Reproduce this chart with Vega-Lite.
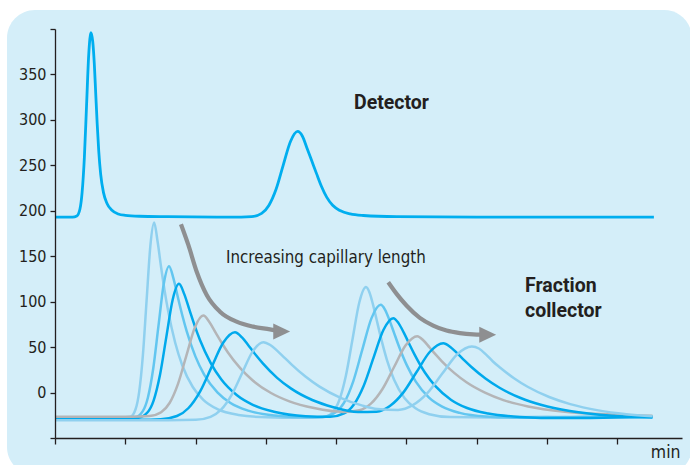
{
  "$schema": "https://vega.github.io/schema/vega-lite/v6.json",
  "autosize": {"type": "none"},
  "padding": {"left": 55, "top": 29, "right": 8, "bottom": 27},
  "width": 627,
  "height": 409,
  "background": "white",
  "config": {"view": {"stroke": null}},
  "datasets": {
    "curves": [
      {"s":"D","x":0,"y":193},{"s":"D","x":0.25,"y":193},{"s":"D","x":0.31,"y":194.2},{"s":"D","x":0.355,"y":201.9},{"s":"D","x":0.386,"y":220.5},{"s":"D","x":0.418,"y":258.9},{"s":"D","x":0.449,"y":316.1},{"s":"D","x":0.48,"y":372.1},{"s":"D","x":0.512,"y":396},{"s":"D","x":0.537,"y":386},{"s":"D","x":0.559,"y":362},{"s":"D","x":0.58,"y":328},{"s":"D","x":0.6,"y":296},{"s":"D","x":0.622,"y":266},{"s":"D","x":0.65,"y":240},{"s":"D","x":0.69,"y":220},{"s":"D","x":0.74,"y":208},{"s":"D","x":0.81,"y":200.5},{"s":"D","x":0.9,"y":196.5},{"s":"D","x":1.0,"y":195},{"s":"D","x":1.2,"y":194},{"s":"D","x":1.6,"y":193.5},{"s":"D","x":2.5,"y":193},{"s":"D","x":2.796,"y":193.6},{"s":"D","x":2.94,"y":197.1},{"s":"D","x":3.042,"y":205.8},{"s":"D","x":3.145,"y":223.6},{"s":"D","x":3.247,"y":250.2},{"s":"D","x":3.35,"y":276.2},{"s":"D","x":3.452,"y":287.3},{"s":"D","x":3.52,"y":282},{"s":"D","x":3.58,"y":270},{"s":"D","x":3.65,"y":255.5},{"s":"D","x":3.722,"y":240.6},{"s":"D","x":3.79,"y":227},{"s":"D","x":3.865,"y":215},{"s":"D","x":3.95,"y":206},{"s":"D","x":4.054,"y":200.3},{"s":"D","x":4.2,"y":196.5},{"s":"D","x":4.386,"y":194.8},{"s":"D","x":4.86,"y":193.5},{"s":"D","x":6,"y":193},{"s":"D","x":8.52,"y":193},

      {"s":"F1","x":0,"y":-28},{"s":"F1","x":0.5,"y":-27.2},{"s":"F1","x":0.8,"y":-28},{"s":"F1","x":1.071,"y":-26.7},{"s":"F1","x":1.145,"y":-18.6},{"s":"F1","x":1.198,"y":1.1},{"s":"F1","x":1.251,"y":41.8},{"s":"F1","x":1.304,"y":102.4},{"s":"F1","x":1.357,"y":161.7},{"s":"F1","x":1.41,"y":187},{"s":"F1","x":1.46,"y":165.9},{"s":"F1","x":1.51,"y":137.6},{"s":"F1","x":1.56,"y":111.8},{"s":"F1","x":1.61,"y":89.6},{"s":"F1","x":1.71,"y":54.8},{"s":"F1","x":1.81,"y":30.1},{"s":"F1","x":1.96,"y":6.1},{"s":"F1","x":2.11,"y":-8},{"s":"F1","x":2.31,"y":-18.2},{"s":"F1","x":2.61,"y":-24.6},{"s":"F1","x":3.01,"y":-27.2},{"s":"F1","x":3.5,"y":-27.8},{"s":"F1","x":3.816,"y":-27.1},{"s":"F1","x":3.949,"y":-21.7},{"s":"F1","x":4.044,"y":-8.5},{"s":"F1","x":4.139,"y":18.8},{"s":"F1","x":4.234,"y":59.3},{"s":"F1","x":4.329,"y":99.1},{"s":"F1","x":4.424,"y":116},{"s":"F1","x":4.474,"y":110.1},{"s":"F1","x":4.524,"y":96.8},{"s":"F1","x":4.574,"y":80.7},{"s":"F1","x":4.624,"y":64.3},{"s":"F1","x":4.724,"y":35.5},{"s":"F1","x":4.824,"y":14},{"s":"F1","x":4.974,"y":-6.3},{"s":"F1","x":5.124,"y":-17.1},{"s":"F1","x":5.324,"y":-23.8},{"s":"F1","x":5.624,"y":-27},{"s":"F1","x":6.2,"y":-27.5},{"s":"F1","x":7,"y":-26.5},{"s":"F1","x":7.5,"y":-27.5},{"s":"F1","x":8,"y":-26.3},{"s":"F1","x":8.5,"y":-26},

      {"s":"F2","x":0,"y":-28.5},{"s":"F2","x":0.9,"y":-28},{"s":"F2","x":1.142,"y":-27},{"s":"F2","x":1.247,"y":-20.7},{"s":"F2","x":1.322,"y":-5.4},{"s":"F2","x":1.397,"y":26.2},{"s":"F2","x":1.472,"y":73.3},{"s":"F2","x":1.547,"y":119.4},{"s":"F2","x":1.622,"y":139},{"s":"F2","x":1.685,"y":125.7},{"s":"F2","x":1.747,"y":105.1},{"s":"F2","x":1.81,"y":85.3},{"s":"F2","x":1.872,"y":67.8},{"s":"F2","x":1.997,"y":39.8},{"s":"F2","x":2.122,"y":19.8},{"s":"F2","x":2.31,"y":0.2},{"s":"F2","x":2.497,"y":-11.5},{"s":"F2","x":2.747,"y":-19.9},{"s":"F2","x":3.122,"y":-25.2},{"s":"F2","x":3.622,"y":-27.3},{"s":"F2","x":3.801,"y":-26.9},{"s":"F2","x":3.983,"y":-22.3},{"s":"F2","x":4.113,"y":-11.2},{"s":"F2","x":4.243,"y":12.4},{"s":"F2","x":4.373,"y":47.5},{"s":"F2","x":4.503,"y":81.9},{"s":"F2","x":4.633,"y":96.5},{"s":"F2","x":4.696,"y":91.1},{"s":"F2","x":4.758,"y":79.7},{"s":"F2","x":4.821,"y":66.2},{"s":"F2","x":4.883,"y":52.9},{"s":"F2","x":5.008,"y":29.6},{"s":"F2","x":5.133,"y":12},{"s":"F2","x":5.321,"y":-5.6},{"s":"F2","x":5.508,"y":-15.5},{"s":"F2","x":5.758,"y":-22.4},{"s":"F2","x":6.133,"y":-26.4},{"s":"F2","x":6.633,"y":-27.7},{"s":"F2","x":7.5,"y":-26.5},{"s":"F2","x":8.5,"y":-26},

      {"s":"F3","x":0,"y":-28.5},{"s":"F3","x":1.0,"y":-28.5},{"s":"F3","x":1.188,"y":-27.6},{"s":"F3","x":1.314,"y":-22},{"s":"F3","x":1.404,"y":-8.5},{"s":"F3","x":1.494,"y":19.6},{"s":"F3","x":1.584,"y":61.3},{"s":"F3","x":1.674,"y":102.2},{"s":"F3","x":1.764,"y":119.6},{"s":"F3","x":1.839,"y":108.3},{"s":"F3","x":1.914,"y":90.6},{"s":"F3","x":1.989,"y":73.1},{"s":"F3","x":2.064,"y":57.6},{"s":"F3","x":2.214,"y":32.7},{"s":"F3","x":2.364,"y":14.6},{"s":"F3","x":2.589,"y":-3},{"s":"F3","x":2.814,"y":-13.5},{"s":"F3","x":3.114,"y":-21.1},{"s":"F3","x":3.564,"y":-26},{"s":"F3","x":3.916,"y":-26.7},{"s":"F3","x":4.112,"y":-23},{"s":"F3","x":4.252,"y":-13.1},{"s":"F3","x":4.392,"y":7.6},{"s":"F3","x":4.532,"y":38.5},{"s":"F3","x":4.672,"y":68.8},{"s":"F3","x":4.812,"y":81.8},{"s":"F3","x":4.887,"y":76.4},{"s":"F3","x":4.962,"y":65.9},{"s":"F3","x":5.037,"y":54},{"s":"F3","x":5.112,"y":42.3},{"s":"F3","x":5.262,"y":22.1},{"s":"F3","x":5.412,"y":7},{"s":"F3","x":5.637,"y":-8.1},{"s":"F3","x":5.862,"y":-17},{"s":"F3","x":6.162,"y":-23.1},{"s":"F3","x":6.612,"y":-26.8},{"s":"F3","x":7.212,"y":-28.1},{"s":"F3","x":8,"y":-27.5},{"s":"F3","x":8.5,"y":-27},

      {"s":"F4","x":0,"y":-26.5},{"s":"F4","x":1.1,"y":-26.5},{"s":"F4","x":1.342,"y":-25.8},{"s":"F4","x":1.51,"y":-21.6},{"s":"F4","x":1.63,"y":-11.5},{"s":"F4","x":1.75,"y":9.6},{"s":"F4","x":1.87,"y":40.9},{"s":"F4","x":1.99,"y":71.6},{"s":"F4","x":2.11,"y":84.7},{"s":"F4","x":2.198,"y":77.4},{"s":"F4","x":2.285,"y":65.9},{"s":"F4","x":2.373,"y":54.5},{"s":"F4","x":2.46,"y":44.1},{"s":"F4","x":2.635,"y":26.9},{"s":"F4","x":2.81,"y":13.5},{"s":"F4","x":3.073,"y":-0.5},{"s":"F4","x":3.335,"y":-9.7},{"s":"F4","x":3.685,"y":-17.1},{"s":"F4","x":4.098,"y":-21.3},{"s":"F4","x":4.329,"y":-19.4},{"s":"F4","x":4.494,"y":-12.2},{"s":"F4","x":4.659,"y":3.9},{"s":"F4","x":4.824,"y":28.1},{"s":"F4","x":4.989,"y":52},{"s":"F4","x":5.154,"y":62},{"s":"F4","x":5.242,"y":57.3},{"s":"F4","x":5.329,"y":49.6},{"s":"F4","x":5.417,"y":41.7},{"s":"F4","x":5.504,"y":34.4},{"s":"F4","x":5.679,"y":21.6},{"s":"F4","x":5.854,"y":11.3},{"s":"F4","x":6.117,"y":-0.1},{"s":"F4","x":6.379,"y":-8.3},{"s":"F4","x":6.729,"y":-15.3},{"s":"F4","x":7.254,"y":-21.1},{"s":"F4","x":7.954,"y":-24.3},{"s":"F4","x":8.5,"y":-25.5},

      {"s":"F5","x":0,"y":-30},{"s":"F5","x":1.2,"y":-30},{"s":"F5","x":1.504,"y":-29.4},{"s":"F5","x":1.735,"y":-25.8},{"s":"F5","x":1.9,"y":-17},{"s":"F5","x":2.065,"y":1.3},{"s":"F5","x":2.23,"y":28.5},{"s":"F5","x":2.395,"y":55.1},{"s":"F5","x":2.56,"y":66.4},{"s":"F5","x":2.66,"y":60.7},{"s":"F5","x":2.76,"y":51},{"s":"F5","x":2.86,"y":41},{"s":"F5","x":2.96,"y":31.8},{"s":"F5","x":3.16,"y":16.2},{"s":"F5","x":3.36,"y":4.3},{"s":"F5","x":3.66,"y":-8.2},{"s":"F5","x":3.96,"y":-16.1},{"s":"F5","x":4.308,"y":-21.4},{"s":"F5","x":4.574,"y":-21},{"s":"F5","x":4.764,"y":-14.8},{"s":"F5","x":4.954,"y":-0.1},{"s":"F5","x":5.144,"y":22.6},{"s":"F5","x":5.334,"y":44.9},{"s":"F5","x":5.524,"y":54.3},{"s":"F5","x":5.624,"y":50.2},{"s":"F5","x":5.724,"y":43.1},{"s":"F5","x":5.824,"y":35.4},{"s":"F5","x":5.924,"y":28.1},{"s":"F5","x":6.124,"y":15.5},{"s":"F5","x":6.324,"y":5.3},{"s":"F5","x":6.624,"y":-6},{"s":"F5","x":6.924,"y":-13.7},{"s":"F5","x":7.324,"y":-20.3},{"s":"F5","x":7.924,"y":-25.6},{"s":"F5","x":8.5,"y":-27.5},

      {"s":"F6","x":0,"y":-30.5},{"s":"F6","x":1.6,"y":-30.5},{"s":"F6","x":2.003,"y":-30},{"s":"F6","x":2.213,"y":-26.7},{"s":"F6","x":2.363,"y":-18.9},{"s":"F6","x":2.513,"y":-2.6},{"s":"F6","x":2.663,"y":21.6},{"s":"F6","x":2.813,"y":45.3},{"s":"F6","x":2.963,"y":55.4},{"s":"F6","x":3.063,"y":52.3},{"s":"F6","x":3.163,"y":45.9},{"s":"F6","x":3.263,"y":38.5},{"s":"F6","x":3.363,"y":31},{"s":"F6","x":3.563,"y":17.6},{"s":"F6","x":3.763,"y":6.5},{"s":"F6","x":4.063,"y":-5.8},{"s":"F6","x":4.363,"y":-14.1},{"s":"F6","x":4.586,"y":-18.1},{"s":"F6","x":4.88,"y":-19.1},{"s":"F6","x":5.09,"y":-13.9},{"s":"F6","x":5.3,"y":-0.4},{"s":"F6","x":5.51,"y":20.9},{"s":"F6","x":5.72,"y":41.9},{"s":"F6","x":5.93,"y":50.6},{"s":"F6","x":6.03,"y":48.5},{"s":"F6","x":6.13,"y":42},{"s":"F6","x":6.23,"y":34.2},{"s":"F6","x":6.33,"y":27.6},{"s":"F6","x":6.53,"y":15.8},{"s":"F6","x":6.73,"y":6.1},{"s":"F6","x":7.03,"y":-4.9},{"s":"F6","x":7.33,"y":-12.7},{"s":"F6","x":7.73,"y":-19.6},{"s":"F6","x":8.13,"y":-23.8},{"s":"F6","x":8.5,"y":-26.2}
    ],
    "arrows": [
      {"s":"A1","x":1.792,"y":185.2},{"s":"A1","x":1.897,"y":162.4},{"s":"A1","x":2.016,"y":133},{"s":"A1","x":2.158,"y":107.4},{"s":"A1","x":2.347,"y":89},{"s":"A1","x":2.584,"y":78},{"s":"A1","x":2.821,"y":72.5},{"s":"A1","x":3.059,"y":69.5},{"s":"A1","x":3.13,"y":68.5},
      {"s":"A2","x":4.741,"y":121.4},{"s":"A2","x":4.86,"y":108.6},{"s":"A2","x":5.0,"y":95.8},{"s":"A2","x":5.19,"y":82.2},{"s":"A2","x":5.38,"y":73.7},{"s":"A2","x":5.57,"y":68.2},{"s":"A2","x":5.76,"y":65.4},{"s":"A2","x":5.95,"y":64},{"s":"A2","x":6.07,"y":63.7}
    ],
    "heads": [
      {"s":"A1","x":3.225,"y":67.2},
      {"s":"A2","x":6.156,"y":63.7}
    ]
  },
  "layer": [
    {
      "data": {"values": [{}]},
      "mark": {"type": "rect", "color": "#d4eef9", "cornerRadius": 28},
      "encoding": {
        "x": {"datum": -0.683, "type": "quantitative", "scale": {"domain": [0, 8.92], "nice": false, "zero": false}},
        "x2": {"datum": 9.062},
        "y": {"datum": 420.9, "type": "quantitative", "scale": {"domain": [-50, 400], "nice": false, "zero": false}},
        "y2": {"datum": -90.7}
      }
    },
    {
      "data": {"name": "curves"},
      "transform": [{"filter": "datum.s === 'D'"}],
      "mark": {"type": "line", "interpolate": "monotone", "strokeWidth": 2.8, "color": "#00aeef"},
      "encoding": {
        "x": {"field": "x", "type": "quantitative", "axis": {"values": [0,1,2,3,4,5,6,7,8], "labels": false, "grid": false, "tickSize": 6, "tickWidth": 1.3, "domainWidth": 1.3, "tickColor": "#231f20", "domainColor": "#231f20", "title": "min", "titleX": 625, "titleY": 19, "titleAlign": "right", "titleBaseline": "alphabetic", "titleFont": "DejaVu Sans Condensed, sans-serif", "titleFontSize": 17.5, "titleFontWeight": "normal", "titleColor": "#231f20", "zindex": 1}},
        "y": {"field": "y", "type": "quantitative", "axis": {"values": [-50,0,50,100,150,200,250,300,350,400], "labelExpr": "datum.value < 0 || datum.value > 350 ? '' : datum.label", "grid": false, "tickSize": 5, "tickWidth": 1.3, "domainWidth": 1.3, "tickColor": "#231f20", "domainColor": "#231f20", "labelPadding": 4, "labelFont": "DejaVu Sans Condensed, sans-serif", "labelFontSize": 16, "labelColor": "#231f20", "title": null, "zindex": 1}}
      }
    },
    {
      "data": {"name": "curves"},
      "transform": [{"filter": "datum.s !== 'D'"}],
      "mark": {"type": "line", "interpolate": "monotone", "strokeWidth": 2.5},
      "encoding": {
        "x": {"field": "x", "type": "quantitative"},
        "y": {"field": "y", "type": "quantitative"},
        "color": {"field": "s", "type": "nominal", "legend": null, "scale": {"domain": ["F1","F2","F3","F4","F5","F6"], "range": ["#8fd0ef","#62c6f0","#00a9ec","#b4b5b7","#00a9ec","#8fd0ef"]}}
      }
    },
    {
      "data": {"name": "arrows"},
      "mark": {"type": "line", "interpolate": "monotone", "strokeWidth": 4.2, "color": "#8e8f91"},
      "encoding": {
        "x": {"field": "x", "type": "quantitative"},
        "y": {"field": "y", "type": "quantitative"},
        "detail": {"field": "s", "type": "nominal"}
      }
    },
    {
      "data": {"name": "heads"},
      "mark": {"type": "point", "shape": "M-1,-0.95L1,0L-1,0.95Z", "filled": true, "size": 285, "color": "#8e8f91", "opacity": 1},
      "encoding": {
        "x": {"field": "x", "type": "quantitative"},
        "y": {"field": "y", "type": "quantitative"}
      }
    },
    {
      "data": {"values": [{}]},
      "mark": {"type": "text", "text": "Detector", "align": "left", "baseline": "alphabetic", "font": "Roboto, DejaVu Sans Condensed, sans-serif", "fontSize": 19.5, "fontWeight": "bold", "color": "#231f20"},
      "encoding": {
        "x": {"datum": 4.254, "type": "quantitative"},
        "y": {"datum": 311.7, "type": "quantitative"}
      }
    },
    {
      "data": {"values": [{}]},
      "mark": {"type": "text", "text": ["Fraction", "collector"], "lineHeight": 25.6, "align": "left", "baseline": "alphabetic", "font": "Roboto, DejaVu Sans Condensed, sans-serif", "fontSize": 19.5, "fontWeight": "bold", "color": "#231f20"},
      "encoding": {
        "x": {"datum": 6.687, "type": "quantitative"},
        "y": {"datum": 111, "type": "quantitative"}
      }
    },
    {
      "data": {"values": [{}]},
      "mark": {"type": "text", "text": "Increasing capillary length", "align": "left", "baseline": "alphabetic", "font": "DejaVu Sans Condensed, sans-serif", "fontSize": 16.8, "fontWeight": "normal", "color": "#231f20"},
      "encoding": {
        "x": {"datum": 2.433, "type": "quantitative"},
        "y": {"datum": 142.3, "type": "quantitative"}
      }
    }
  ]
}
